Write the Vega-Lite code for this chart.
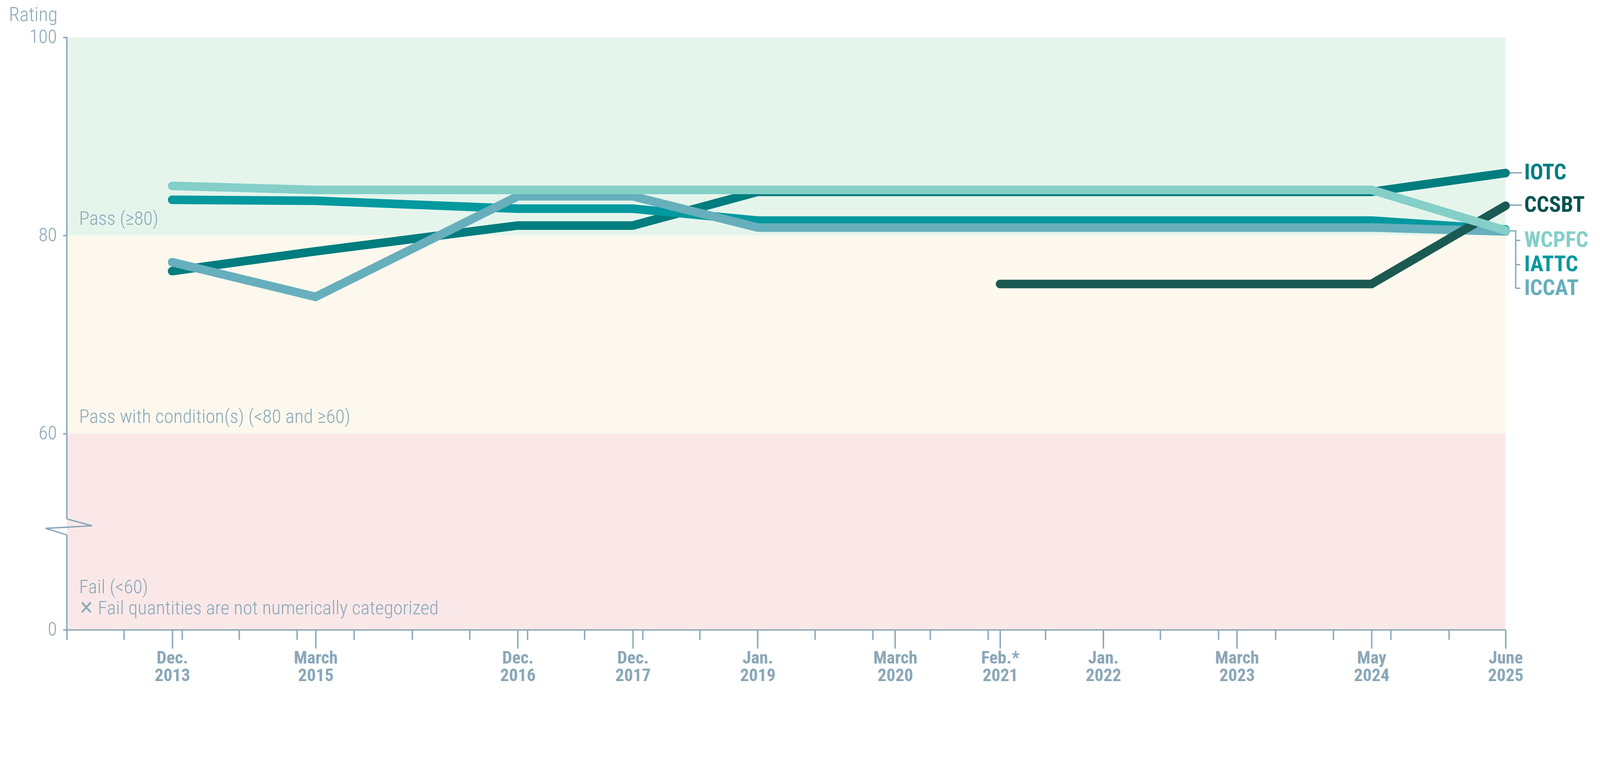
{
  "$schema": "https://vega.github.io/schema/vega-lite/v6.json",
  "autosize": {"type": "none"},
  "width": 3683,
  "height": 1516,
  "padding": {"left": 171.1, "top": 95.5, "right": 241.9, "bottom": 144.1},
  "background": "white",
  "config": {"view": {"stroke": null}, "axis": {"grid": false}},
  "resolve": {"axis": {"x": "independent"}, "scale": {"color": "independent"}},
  "datasets": {
    "ratings": [
      {"org": "IOTC", "date": "2013-12-01", "rating": 76.4},
      {"org": "IOTC", "date": "2015-03-01", "rating": 78.4},
      {"org": "IOTC", "date": "2016-12-01", "rating": 81.0},
      {"org": "IOTC", "date": "2017-12-01", "rating": 81.0},
      {"org": "IOTC", "date": "2019-01-01", "rating": 84.4},
      {"org": "IOTC", "date": "2020-03-12", "rating": 84.4},
      {"org": "IOTC", "date": "2021-02-08", "rating": 84.4},
      {"org": "IOTC", "date": "2022-01-01", "rating": 84.4},
      {"org": "IOTC", "date": "2023-03-01", "rating": 84.4},
      {"org": "IOTC", "date": "2024-05-01", "rating": 84.4},
      {"org": "IOTC", "date": "2025-06-30", "rating": 86.3},
      {"org": "IATTC", "date": "2013-12-01", "rating": 83.6},
      {"org": "IATTC", "date": "2015-03-01", "rating": 83.5},
      {"org": "IATTC", "date": "2016-12-01", "rating": 82.7},
      {"org": "IATTC", "date": "2017-12-01", "rating": 82.7},
      {"org": "IATTC", "date": "2019-01-01", "rating": 81.5},
      {"org": "IATTC", "date": "2020-03-12", "rating": 81.5},
      {"org": "IATTC", "date": "2021-02-08", "rating": 81.5},
      {"org": "IATTC", "date": "2022-01-01", "rating": 81.5},
      {"org": "IATTC", "date": "2023-03-01", "rating": 81.5},
      {"org": "IATTC", "date": "2024-05-01", "rating": 81.5},
      {"org": "IATTC", "date": "2025-06-30", "rating": 80.6},
      {"org": "ICCAT", "date": "2013-12-01", "rating": 77.3},
      {"org": "ICCAT", "date": "2015-03-01", "rating": 73.8},
      {"org": "ICCAT", "date": "2016-12-01", "rating": 83.95},
      {"org": "ICCAT", "date": "2017-12-01", "rating": 83.95},
      {"org": "ICCAT", "date": "2019-01-01", "rating": 80.8},
      {"org": "ICCAT", "date": "2020-03-12", "rating": 80.8},
      {"org": "ICCAT", "date": "2021-02-08", "rating": 80.8},
      {"org": "ICCAT", "date": "2022-01-01", "rating": 80.8},
      {"org": "ICCAT", "date": "2023-03-01", "rating": 80.8},
      {"org": "ICCAT", "date": "2024-05-01", "rating": 80.8},
      {"org": "ICCAT", "date": "2025-06-30", "rating": 80.4},
      {"org": "CCSBT", "date": "2021-02-08", "rating": 75.1},
      {"org": "CCSBT", "date": "2022-01-01", "rating": 75.1},
      {"org": "CCSBT", "date": "2023-03-01", "rating": 75.1},
      {"org": "CCSBT", "date": "2024-05-01", "rating": 75.1},
      {"org": "CCSBT", "date": "2025-06-30", "rating": 83.0},
      {"org": "WCPFC", "date": "2013-12-01", "rating": 85.0},
      {"org": "WCPFC", "date": "2015-03-01", "rating": 84.6},
      {"org": "WCPFC", "date": "2016-12-01", "rating": 84.6},
      {"org": "WCPFC", "date": "2017-12-01", "rating": 84.6},
      {"org": "WCPFC", "date": "2019-01-01", "rating": 84.6},
      {"org": "WCPFC", "date": "2020-03-12", "rating": 84.6},
      {"org": "WCPFC", "date": "2021-02-08", "rating": 84.6},
      {"org": "WCPFC", "date": "2022-01-01", "rating": 84.6},
      {"org": "WCPFC", "date": "2023-03-01", "rating": 84.6},
      {"org": "WCPFC", "date": "2024-05-01", "rating": 84.6},
      {"org": "WCPFC", "date": "2025-06-30", "rating": 80.5}
    ],
    "bands": [
      {"band": "Pass", "lo": 80, "hi": 100},
      {"band": "Pass with condition(s)", "lo": 60, "hi": 80},
      {"band": "Fail", "lo": 0, "hi": 60}
    ],
    "bandNotes": [
      {"note": "Pass (≥80)", "at": 80},
      {"note": "Pass with condition(s) (<80 and ≥60)", "at": 60}
    ],
    "failNote": [
      {"note": ["Fail (<60)", "✕ Fail quantities are not numerically categorized"], "at": 0}
    ],
    "axisLine": [
      {"from": 0, "to": 29.0},
      {"from": 33.9, "to": 100}
    ],
    "axisBreak": [
      {"step": 1, "date": "2013-01-01", "rating": 33.9},
      {"step": 2, "date": "2013-03-22", "rating": 31.8},
      {"step": 3, "date": "2012-10-26", "rating": 31.0},
      {"step": 4, "date": "2013-01-01", "rating": 29.0}
    ],
    "tags": [
      {"org": "IOTC", "at": 86.32, "group": "single"},
      {"org": "CCSBT", "at": 83.06, "group": "single"},
      {"org": "WCPFC", "at": 79.5, "group": "bracket"},
      {"org": "IATTC", "at": 77.05, "group": "bracket"},
      {"org": "ICCAT", "at": 74.67, "group": "bracket"}
    ],
    "bracket": [{"top": 80.46, "bottom": 74.67}]
  },
  "layer": [
    {
      "data": {"name": "bands"},
      "mark": {"type": "rect"},
      "encoding": {
        "x": {
          "datum": {"year": 2013, "month": 1, "date": 1, "utc": true},
          "type": "temporal",
          "scale": {"type": "utc", "domain": [{"year": 2013, "month": 1, "date": 1, "utc": true}, {"year": 2025, "month": 6, "date": 30, "utc": true}]},
          "axis": {
            "orient": "bottom",
            "title": null,
            "labels": false,
            "domain": true,
            "domainColor": "#8aa7b8",
            "domainWidth": 3.6,
            "ticks": true,
            "tickColor": "#8aa7b8",
            "tickWidth": 3.6,
            "tickSize": 25.2,
            "zindex": 1,
            "values": [
              {"year": 2013, "month": 1, "date": 1, "utc": true}, {"year": 2013, "month": 7, "date": 1, "utc": true},
              {"year": 2014, "month": 1, "date": 1, "utc": true}, {"year": 2014, "month": 7, "date": 1, "utc": true},
              {"year": 2015, "month": 1, "date": 1, "utc": true}, {"year": 2015, "month": 7, "date": 1, "utc": true},
              {"year": 2016, "month": 1, "date": 1, "utc": true}, {"year": 2016, "month": 7, "date": 1, "utc": true},
              {"year": 2017, "month": 1, "date": 1, "utc": true}, {"year": 2017, "month": 7, "date": 1, "utc": true},
              {"year": 2018, "month": 1, "date": 1, "utc": true}, {"year": 2018, "month": 7, "date": 1, "utc": true},
              {"year": 2019, "month": 1, "date": 1, "utc": true}, {"year": 2019, "month": 7, "date": 1, "utc": true},
              {"year": 2020, "month": 1, "date": 1, "utc": true}, {"year": 2020, "month": 7, "date": 1, "utc": true},
              {"year": 2021, "month": 1, "date": 1, "utc": true}, {"year": 2021, "month": 7, "date": 1, "utc": true},
              {"year": 2022, "month": 1, "date": 1, "utc": true}, {"year": 2022, "month": 7, "date": 1, "utc": true},
              {"year": 2023, "month": 1, "date": 1, "utc": true}, {"year": 2023, "month": 7, "date": 1, "utc": true},
              {"year": 2024, "month": 1, "date": 1, "utc": true}, {"year": 2024, "month": 7, "date": 1, "utc": true},
              {"year": 2025, "month": 1, "date": 1, "utc": true}
            ]
          }
        },
        "x2": {"datum": {"year": 2025, "month": 6, "date": 30, "utc": true}},
        "y": {
          "field": "lo",
          "type": "quantitative",
          "scale": {"domain": [0, 60, 100], "range": [1516, 1014, 0]},
          "axis": {
            "values": [0, 60, 80, 100],
            "domain": false,
            "ticks": true,
            "tickColor": "#8aa7b8",
            "tickWidth": 3.6,
            "tickSize": 9.9,
            "labelFont": "Roboto Condensed, DejaVu Sans Condensed, Roboto, sans-serif",
            "labelFontSize": 48,
            "labelFontWeight": 300,
            "labelColor": "#8aa7b8",
            "labelPadding": 16.2,
            "zindex": 1,
            "title": "Rating",
            "titleFont": "Roboto Condensed, DejaVu Sans Condensed, Roboto, sans-serif",
            "titleFontSize": 50,
            "titleFontWeight": 300,
            "titleColor": "#8aa7b8",
            "titleAngle": 0,
            "titleAlign": "right",
            "titleBaseline": "alphabetic",
            "titleX": -24.3,
            "titleY": -42.4
          }
        },
        "y2": {"field": "hi"},
        "fill": {
          "field": "band",
          "type": "nominal",
          "scale": {"domain": ["Pass", "Pass with condition(s)", "Fail"], "range": ["#e5f5ec", "#fcf8ee", "#fae8e8"]},
          "legend": null
        }
      }
    },
    {
      "data": {"name": "bandNotes"},
      "mark": {"type": "text", "align": "left", "baseline": "alphabetic", "dx": 31.5, "dy": -27, "font": "Roboto Condensed, DejaVu Sans Condensed, Roboto, sans-serif", "fontSize": 49, "fontWeight": 300, "color": "#8aa7b8"},
      "encoding": {
        "x": {"datum": {"year": 2013, "month": 1, "date": 1, "utc": true}, "type": "temporal", "axis": null},
        "y": {"field": "at", "type": "quantitative"},
        "text": {"field": "note", "type": "nominal"}
      }
    },
    {
      "data": {"name": "failNote"},
      "mark": {"type": "text", "align": "left", "baseline": "top", "dx": 31.5, "dy": -132.6, "lineHeight": 54, "font": "Roboto Condensed, DejaVu Sans Condensed, Roboto, sans-serif", "fontSize": 49, "fontWeight": 300, "color": "#8aa7b8"},
      "encoding": {
        "x": {"datum": {"year": 2013, "month": 1, "date": 1, "utc": true}, "type": "temporal", "axis": null},
        "y": {"field": "at", "type": "quantitative"},
        "text": {"field": "note", "type": "nominal"}
      }
    },
    {
      "data": {"name": "axisLine"},
      "mark": {"type": "rule", "color": "#8aa7b8", "strokeWidth": 3.6},
      "encoding": {
        "x": {"datum": {"year": 2013, "month": 1, "date": 1, "utc": true}, "type": "temporal", "axis": null},
        "y": {"field": "from", "type": "quantitative"},
        "y2": {"field": "to"}
      }
    },
    {
      "data": {"name": "axisBreak"},
      "mark": {"type": "line", "color": "#8aa7b8", "strokeWidth": 3.6, "strokeJoin": "miter", "clip": false},
      "encoding": {
        "x": {"field": "date", "type": "temporal", "axis": null},
        "y": {"field": "rating", "type": "quantitative"},
        "order": {"field": "step", "type": "quantitative"}
      }
    },
    {
      "data": {"name": "tags"},
      "transform": [{"filter": "datum.group == 'single'"}],
      "mark": {"type": "rule", "color": "#8aa7b8", "strokeWidth": 3.4, "x2Offset": 42.4},
      "encoding": {
        "x": {"datum": {"year": 2025, "month": 6, "date": 30, "utc": true}, "type": "temporal", "axis": null},
        "x2": {"datum": {"year": 2025, "month": 6, "date": 30, "utc": true}},
        "y": {"field": "at", "type": "quantitative"}
      }
    },
    {
      "data": {"name": "tags"},
      "transform": [{"filter": "datum.group == 'bracket'"}],
      "mark": {"type": "rule", "color": "#8aa7b8", "strokeWidth": 3.4, "xOffset": 26.1, "x2Offset": 37.8},
      "encoding": {
        "x": {"datum": {"year": 2025, "month": 6, "date": 30, "utc": true}, "type": "temporal", "axis": null},
        "x2": {"datum": {"year": 2025, "month": 6, "date": 30, "utc": true}},
        "y": {"field": "at", "type": "quantitative"}
      }
    },
    {
      "data": {"name": "bracket"},
      "mark": {"type": "rule", "color": "#8aa7b8", "strokeWidth": 3.4, "xOffset": 26.1},
      "encoding": {
        "x": {"datum": {"year": 2025, "month": 6, "date": 30, "utc": true}, "type": "temporal", "axis": null},
        "y": {"field": "top", "type": "quantitative"},
        "y2": {"field": "bottom"}
      }
    },
    {
      "data": {"name": "bracket"},
      "mark": {"type": "rule", "color": "#8aa7b8", "strokeWidth": 3.4, "x2Offset": 27.9},
      "encoding": {
        "x": {"datum": {"year": 2025, "month": 6, "date": 30, "utc": true}, "type": "temporal", "axis": null},
        "x2": {"datum": {"year": 2025, "month": 6, "date": 30, "utc": true}},
        "y": {"field": "top", "type": "quantitative"}
      }
    },
    {
      "data": {"name": "ratings"},
      "mark": {"type": "line", "strokeWidth": 22, "strokeCap": "round", "strokeJoin": "miter"},
      "encoding": {
        "x": {
          "field": "date",
          "type": "temporal",
          "axis": {
            "orient": "bottom",
            "title": null,
            "domain": false,
            "ticks": true,
            "tickColor": "#8aa7b8",
            "tickWidth": 3.6,
            "tickSize": 47.8,
            "labelFont": "Roboto Condensed, DejaVu Sans Condensed, Roboto, sans-serif",
            "labelFontSize": 45,
            "labelFontWeight": "bold",
            "labelColor": "#8aa7b8",
            "labelLineHeight": 45,
            "labelPadding": 2.5,
            "labelAlign": "center",
            "labelBaseline": "top",
            "labelFlush": false,
            "labelOverlap": false,
            "labelBound": false,
            "zindex": 1,
            "values": [
              {"year": 2013, "month": 12, "date": 1, "utc": true},
              {"year": 2015, "month": 3, "date": 1, "utc": true},
              {"year": 2016, "month": 12, "date": 1, "utc": true},
              {"year": 2017, "month": 12, "date": 1, "utc": true},
              {"year": 2019, "month": 1, "date": 1, "utc": true},
              {"year": 2020, "month": 3, "date": 12, "utc": true},
              {"year": 2021, "month": 2, "date": 8, "utc": true},
              {"year": 2022, "month": 1, "date": 1, "utc": true},
              {"year": 2023, "month": 3, "date": 1, "utc": true},
              {"year": 2024, "month": 5, "date": 1, "utc": true},
              {"year": 2025, "month": 6, "date": 30, "utc": true}
            ],
            "labelExpr": "[utcmonth(datum.value) == 11 ? 'Dec.' : utcmonth(datum.value) == 2 ? 'March' : utcmonth(datum.value) == 0 ? 'Jan.' : utcmonth(datum.value) == 1 ? 'Feb.*' : utcmonth(datum.value) == 4 ? 'May' : 'June', '' + utcyear(datum.value)]"
          }
        },
        "y": {"field": "rating", "type": "quantitative"},
        "color": {
          "field": "org",
          "type": "nominal",
          "scale": {"domain": ["IOTC", "CCSBT", "WCPFC", "IATTC", "ICCAT"], "range": ["#007d7e", "#1b5a52", "#84cfc8", "#03999e", "#67afbc"]},
          "legend": null
        }
      }
    },
    {
      "data": {"name": "tags"},
      "mark": {"type": "text", "align": "left", "baseline": "middle", "dx": 47.8, "font": "Roboto Condensed, DejaVu Sans Condensed, Roboto, sans-serif", "fontSize": 56, "fontWeight": "bold"},
      "encoding": {
        "x": {"datum": {"year": 2025, "month": 6, "date": 30, "utc": true}, "type": "temporal", "axis": null},
        "y": {"field": "at", "type": "quantitative"},
        "text": {"field": "org", "type": "nominal"},
        "color": {
          "field": "org",
          "type": "nominal",
          "scale": {"domain": ["IOTC", "CCSBT", "WCPFC", "IATTC", "ICCAT"], "range": ["#007d7e", "#02524f", "#84cfc8", "#03999e", "#67afbc"]},
          "legend": null
        }
      }
    }
  ]
}
